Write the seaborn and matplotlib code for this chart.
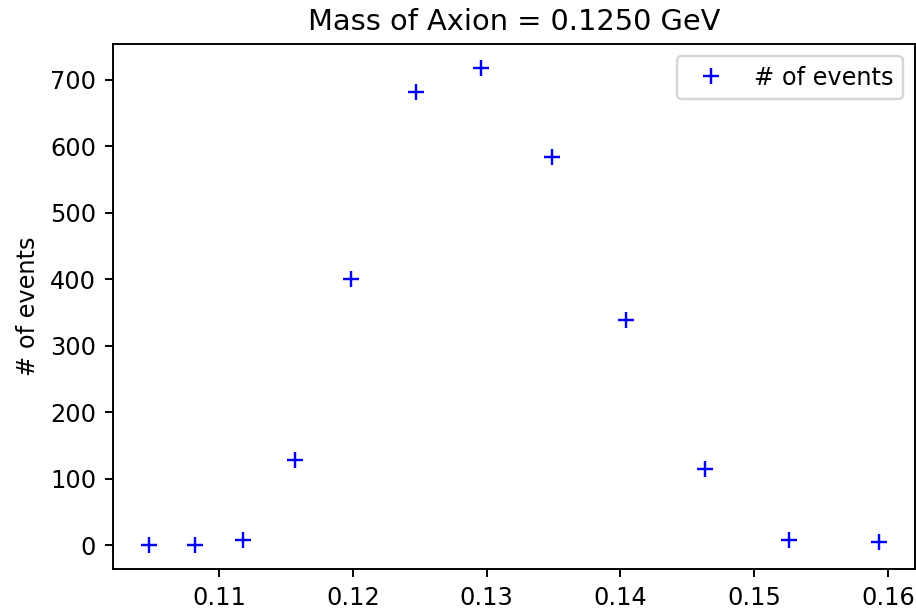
import matplotlib
matplotlib.use("Agg")
import matplotlib.pyplot as plt
import seaborn as sns
import pandas as pd

# Reconstructed invariant-mass bins and event counts
mass = [0.1048, 0.1082, 0.1118, 0.1157, 0.1199, 0.1247,
        0.1296, 0.1349, 0.1404, 0.1463, 0.1526, 0.1593]
events = [0, 0, 8, 128, 400, 682, 718, 584, 338, 114, 8, 4]

axion_mass = 0.1250
series_label = "# of events"

sns.set_style("ticks", rc={
    "axes.edgecolor": "black",
    "xtick.color": "black",
    "ytick.color": "black",
    "text.color": "black",
    "axes.labelcolor": "black",
})
plt.rcParams["font.family"] = ["DejaVu Sans"]

df = pd.DataFrame({"mass": mass, "events": events})

DPI = 173
fig = plt.figure(figsize=(916 / DPI, 612 / DPI), dpi=DPI)
ax = fig.add_axes([113 / 916, 1 - 569 / 612, (915 - 113) / 916, (569 - 44) / 612])

sns.lineplot(data=df, x="mass", y="events", ax=ax, color="blue",
             linestyle="none", marker="+", markersize=6.5,
             markeredgecolor="blue", markeredgewidth=1.0,
             label=series_label)

ax.set_title(f"Mass of Axion = {axion_mass:.4f} GeV", fontsize=12)
ax.set_xlabel("")
ax.set_ylabel(series_label, fontsize=10)
ax.tick_params(labelsize=10, length=3.5, width=0.8)
for s in ax.spines.values():
    s.set_linewidth(0.8)
ax.margins(x=0.05, y=0.05)
ax.legend(loc="upper right", fontsize=10, frameon=True)

fig.savefig("out.png", dpi=DPI)
